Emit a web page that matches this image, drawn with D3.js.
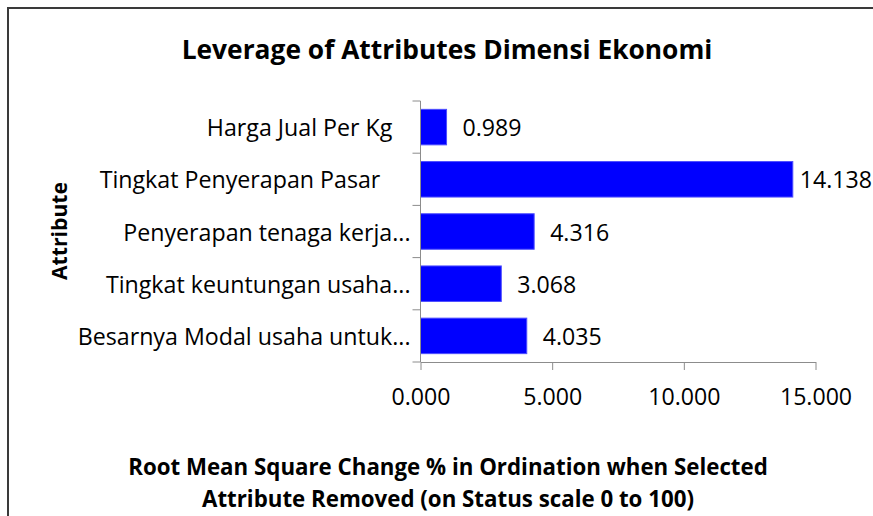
<!DOCTYPE html>
<html>
<head>
<meta charset="utf-8">
<script src="https://cdn.jsdelivr.net/npm/d3@7"></script>
<style>
  html, body { margin: 0; padding: 0; background: #fff; }
  svg { display: block; }
  text { font-family: "Open Sans", Lato, sans-serif; fill: #000; }
</style>
</head>
<body>
<svg id="chart" width="873" height="516"></svg>
<script>
const categories = [
  "Harga Jual Per Kg",
  "Tingkat Penyerapan Pasar",
  "Penyerapan tenaga kerja...",
  "Tingkat keuntungan usaha...",
  "Besarnya Modal usaha untuk..."
];
const labelTrail = ["\u00a0\u00a0\u00a0", "\u00a0\u00a0\u00a0\u00a0\u00a0", "", "", ""];
const values = [0.989, 14.138, 4.316, 3.068, 4.035];
const xTicks = [0, 5, 10, 15];
const titleText = "Leverage of Attributes Dimensi Ekonomi";
const yTitleText = "Attribute";
const xTitleLines = ["Root Mean Square Change % in Ordination when Selected",
                     "Attribute Removed (on Status scale 0 to 100)"];

const svg = d3.select("#chart");
const W = 873, H = 516;

// scale a group of texts so that the reference node reaches a target width
function fit(sel, refNode, target) {
  const base = parseFloat(d3.select(refNode).style("font-size"));
  const w = refNode.getComputedTextLength();
  const size = base * target / w;
  sel.style("font-size", size + "px");
  return size;
}

// outer border
svg.append("rect")
  .attr("x", 8).attr("y", 8).attr("width", W + 10).attr("height", H + 10)
  .attr("fill", "none").attr("stroke", "#3a3a3a").attr("stroke-width", 2);

const x = d3.scaleLinear().domain([0, 15]).range([420.5, 815.5]);
const y = d3.scaleBand().domain(categories).range([101, 362])
  .paddingInner(0.32).paddingOuter(0.16);

// title
const title = svg.append("text")
  .attr("x", 447).attr("y", 58.5)
  .attr("text-anchor", "middle")
  .style("font-weight", "bold").style("font-size", "27px")
  .text(titleText);
fit(title, title.node(), 531);

// bars
svg.append("g").selectAll("rect")
  .data(values)
  .join("rect")
  .attr("x", x(0))
  .attr("y", (d, i) => y(categories[i]))
  .attr("width", d => x(d) - x(0))
  .attr("height", y.bandwidth())
  .attr("fill", "#0000ff")
  .attr("stroke", "#4d4dff").attr("stroke-width", 1);

// value labels
const vl = svg.append("g").selectAll("text")
  .data(values)
  .join("text")
  .attr("y", (d, i) => y(categories[i]) + y.bandwidth() / 2 + 9)
  .style("font-size", "22px")
  .text(d => d.toFixed(3));
const valSize = fit(vl, vl.nodes()[0], 59);
vl.each(function(d) {
  const w = this.getComputedTextLength();
  const pos = Math.min(x(d) + 16, 872 - w);
  d3.select(this).attr("x", pos);
});

// y axis
const yAxisG = svg.append("g").attr("transform", `translate(${x(0)},0)`);
yAxisG.append("line")
  .attr("x1", 0).attr("x2", 0).attr("y1", 101).attr("y2", 362)
  .attr("stroke", "#8c8c8c").attr("stroke-width", 1);
const boundaries = d3.range(categories.length + 1).map(i => 101 + i * y.step());
yAxisG.selectAll("line.tick")
  .data(boundaries)
  .join("line").attr("class", "tick")
  .attr("x1", -8).attr("x2", 0)
  .attr("y1", d => d).attr("y2", d => d)
  .attr("stroke", "#8c8c8c");
const catLabels = yAxisG.selectAll("text")
  .data(categories)
  .join("text")
  .attr("x", -10)
  .attr("y", d => y(d) + y.bandwidth() / 2 + 9)
  .attr("text-anchor", "end")
  .style("font-size", "22px")
  .style("white-space", "pre")
  .text((d, i) => d + labelTrail[i]);
fit(catLabels, catLabels.nodes()[4], 333);

// x axis
const xAxis = d3.axisBottom(x).tickValues(xTicks).tickSize(8).tickSizeOuter(0)
  .tickFormat(d3.format(".3f"));
const xg = svg.append("g").attr("transform", "translate(0,362)").call(xAxis);
xg.select(".domain").attr("stroke", "#8c8c8c");
xg.selectAll(".tick line").attr("stroke", "#8c8c8c");
xg.selectAll(".tick text")
  .attr("y", 43).attr("dy", 0)
  .style("font-size", valSize + "px")
  .style("font-family", "'Open Sans', sans-serif")
  .attr("fill", "#000");

// y title
const yt = svg.append("text")
  .attr("transform", "translate(67,231) rotate(-90)")
  .attr("text-anchor", "middle")
  .style("font-weight", "bold").style("font-size", "21px")
  .text(yTitleText);
fit(yt, yt.node(), 98);

// x title
const xt = svg.append("g").selectAll("text")
  .data(xTitleLines)
  .join("text")
  .attr("x", 448)
  .attr("y", (d, i) => 475 + i * 32)
  .attr("text-anchor", "middle")
  .style("font-weight", "bold").style("font-size", "20px")
  .text(d => d);
fit(xt, xt.nodes()[0], 640);
</script>
</body>
</html>
